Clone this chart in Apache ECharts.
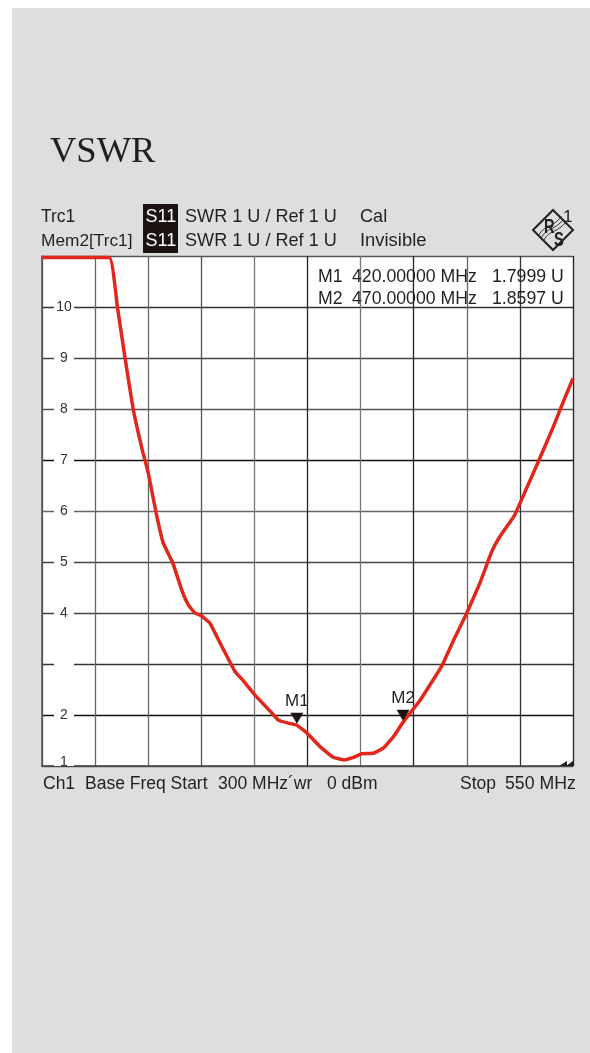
<!DOCTYPE html>
<html>
<head>
<meta charset="utf-8">
<title>VSWR</title>
<style>
  html, body { margin: 0; padding: 0; background: #fff; }
  #chart { width: 590px; height: 1053px; }
</style>
<script src="https://cdn.jsdelivr.net/npm/echarts@6/dist/echarts.min.js"></script>
</head>
<body>
<div id="chart"></div>
<script>
const titleText = "VSWR";
const freqMHz = [300, 331.7, 335.5, 339.1, 343, 347.2, 350, 353.7, 357.1, 361.5, 365.8, 368.9, 372, 374.9, 379.1, 383, 390.9, 394.8, 400.3, 407.3, 411.3, 416, 420, 424.9, 430.9, 437.1, 442.2, 446.6, 450.5, 456, 460.7, 465.4, 470, 478, 488.2, 493.5, 500, 506.2, 511.7, 515.6, 522.4, 528.2, 533.7, 540.7, 545.4, 550];
const swrValues = [10.97, 10.97, 10, 9, 7.98, 7.2, 6.75, 5.97, 5.37, 4.99, 4.45, 4.16, 4, 3.95, 3.8, 3.48, 2.85, 2.67, 2.39, 2.08, 1.9, 1.84, 1.7999, 1.64, 1.38, 1.17, 1.12, 1.17, 1.24, 1.25, 1.35, 1.57, 1.8597, 2.29, 2.96, 3.44, 4, 4.59, 5.2, 5.5, 5.91, 6.45, 6.97, 7.65, 8.14, 8.6];
const yTickLabels = ["1", "2", "\u00a0", "4", "5", "6", "7", "8", "9", "10", ""];
const xLineColors = ["#555", "#666", "#666", "#555", "#777", "#222", "#777", "#222", "#666", "#333", "#222"];
const yLineColors = ["#555", "#111", "#333", "#444", "#444", "#666", "#111", "#555", "#444", "#333", "#555"];
const markerNames = ["M1", "M2"];
const markerFreqs = [420, 470];
const markerValues = [1.7999, 1.8597];
const markerFreqText = ["420.00000 MHz", "470.00000 MHz"];
const markerValueText = ["1.7999 U", "1.8597 U"];

const INK = "#231f20";
const FONT = "'Liberation Sans', Arial, sans-serif";

function label(x, y, text, size, fill) {
  return {
    type: "text",
    z: 20,
    x: x,
    y: y,
    silent: true,
    style: {
      text: text,
      fill: fill || INK,
      font: (size || 17.3) + "px " + FONT,
      verticalAlign: "middle",
    },
  };
}

function rsLogo() {
  const waves = [-2.5, 0, 2.5].map((d) => ({
    type: "bezierCurve",
    z: 22,
    shape: {
      x1: 541 + d,
      y1: 238 + d,
      cpx1: 548 + d,
      cpy1: 226 + d,
      cpx2: 553 + d,
      cpy2: 232 + d,
      x2: 564 + d,
      y2: 219 + d,
    },
    style: { stroke: INK, lineWidth: 0.9, fill: null },
  }));
  return [
    {
      type: "polygon",
      z: 20,
      shape: { points: [[553, 210], [573, 230], [553, 250], [533, 230]] },
      style: { fill: "none", stroke: INK, lineWidth: 2 },
    },
    ...waves,
    {
      type: "text",
      z: 21,
      x: 544,
      y: 217,
      scaleX: 0.7,
      style: { text: "R", fill: INK, font: "bold 21px " + FONT },
    },
    {
      type: "text",
      z: 21,
      x: 554,
      y: 230,
      scaleX: 0.7,
      style: { text: "S", fill: INK, font: "bold 21px " + FONT },
    },
    label(563, 217, "1"),
  ];
}

const chart = echarts.init(document.getElementById("chart"));

const graphics = [
  {
    type: "rect",
    z: -1,
    shape: { x: 12, y: 8, width: 578, height: 1045 },
    style: { fill: "#dedede" },
  },
  {
    type: "text",
    z: 20,
    x: 50,
    y: 152,
    style: {
      text: titleText,
      fill: INK,
      font: "36.5px 'Liberation Serif', serif",
      verticalAlign: "middle",
    },
  },
  { type: "rect", z: 10, shape: { x: 143, y: 204, width: 35, height: 49 }, style: { fill: "#1a1311" } },
  label(41, 217, "Trc1", 17.5),
  label(41, 241, "Mem2[Trc1]"),
  label(145.5, 217, "S11", 18, "#fff"),
  label(145.5, 241, "S11", 18, "#fff"),
  label(185, 217, "SWR 1 U / Ref 1 U", 18.1),
  label(185, 241, "SWR 1 U / Ref 1 U", 18.1),
  label(360, 217, "Cal", 18.1),
  label(360, 241, "Invisible", 18.4),
  label(318, 277, markerNames[0], 17.7),
  label(318, 299, markerNames[1], 17.7),
  label(352, 277, markerFreqText[0], 17.7),
  label(352, 299, markerFreqText[1], 17.7),
  label(492, 277, markerValueText[0], 17.7),
  label(492, 299, markerValueText[1], 17.7),
  label(43, 784, "Ch1", 17.5),
  label(85, 784, "Base Freq Start", 17.5),
  label(218, 784, "300 MHz\u00b4wr", 17.5),
  label(327, 784, "0 dBm", 17.5),
  label(460, 784, "Stop", 17.5),
  label(505, 784, "550 MHz", 17.7),
  { type: "polygon", z: 20, shape: { points: [[559, 766], [567, 761], [567, 766]] }, style: { fill: INK } },
  { type: "polygon", z: 20, shape: { points: [[566, 766], [573, 761], [573, 766]] }, style: { fill: INK } },
  ...rsLogo(),
];

chart.setOption({
  animation: false,
  textStyle: { fontFamily: FONT },
  graphic: graphics,
  grid: {
    left: 42,
    right: 17,
    top: 256,
    bottom: 287,
    show: true,
    backgroundColor: "#fff",
    borderWidth: 0,
  },
  xAxis: {
    type: "value",
    min: 300,
    max: 550,
    interval: 25,
    axisLine: { show: true, lineStyle: { color: "#444", width: 1.5 } },
    axisTick: { show: false },
    axisLabel: { show: false },
    splitLine: { show: true, lineStyle: { color: xLineColors, width: 1.3 } },
  },
  yAxis: {
    type: "value",
    min: 1,
    max: 11,
    interval: 1,
    axisLine: { show: true, lineStyle: { color: "#555", width: 1.5 } },
    axisTick: { show: false },
    axisLabel: {
      inside: true,
      margin: 22,
      align: "center",
      width: 20,
      color: "#333",
      fontSize: 14,
      lineHeight: 8,
      backgroundColor: "#fff",
      verticalAlignMinLabel: "bottom",
      formatter: (v) => yTickLabels[v - 1],
    },
    splitLine: { show: true, lineStyle: { color: yLineColors, width: 1.3 } },
  },
  series: [
    {
      type: "line",
      data: freqMHz.map((f, i) => [f, swrValues[i]]),
      showSymbol: false,
      smooth: 0.1,
      clip: false,
      lineStyle: { color: "#e1261c", width: 3.5 },
      markPoint: {
        symbol: "triangle",
        symbolRotate: 180,
        symbolSize: [13, 11],
        symbolOffset: [0, -7],
        itemStyle: { color: "#1a1311" },
        label: {
          show: true,
          position: "top",
          distance: 3,
          color: INK,
          fontSize: 17,
          formatter: "{b}",
        },
        data: markerNames.map((name, i) => ({
          name: name,
          coord: [markerFreqs[i], markerValues[i]],
        })),
      },
    },
  ],
});
</script>
</body>
</html>
